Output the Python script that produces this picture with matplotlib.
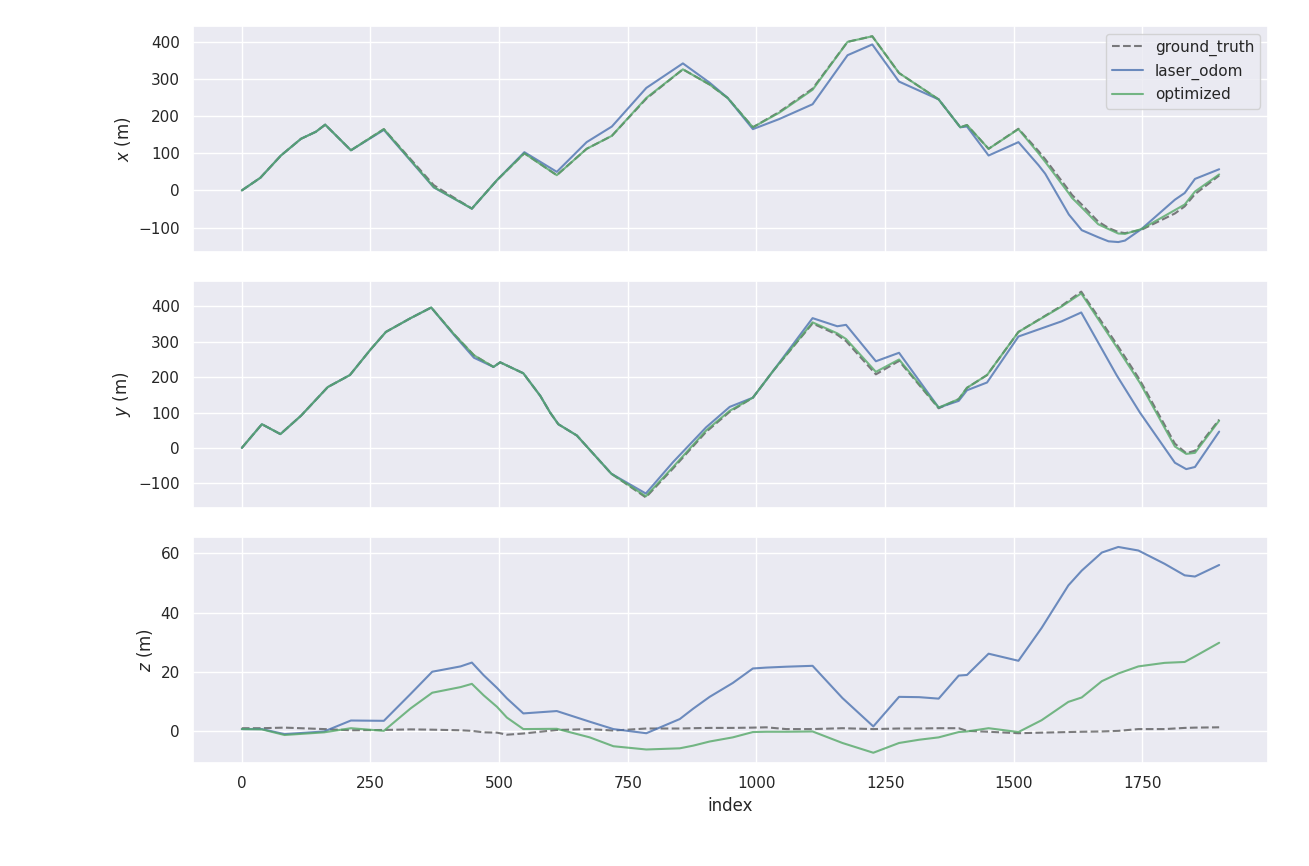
import matplotlib
matplotlib.use('Agg')
import matplotlib.pyplot as plt
import seaborn as sns

# x component (m), keypoints
idx_x = [0, 36, 76, 115, 144, 162, 212, 276, 373, 447, 496, 549, 612, 670, 719, 786,
         857, 909, 944, 993, 1044, 1109, 1177, 1225, 1277, 1354, 1396, 1409, 1451, 1509,
         1548, 1561, 1607, 1613, 1632, 1664, 1684, 1703, 1716, 1748, 1813, 1832, 1852, 1899]
gt_x = [0, 34, 94, 139, 158, 177, 108, 165, 14, -49, 28, 100, 41, 112, 147, 247,
        326, 285, 249, 170, 211, 274, 400, 415, 316, 245, 170, 176, 112, 166,
        106, 84, 0, -12, -38, -84, -101, -112, -115, -106, -62, -43, -10, 40]
laser_x = [0, 34, 94, 139, 158, 177, 108, 163, 8, -49, 28, 103, 50, 130, 172, 276,
           342, 290, 249, 165, 192, 232, 364, 393, 293, 245, 170, 172, 94, 130,
           68, 45, -65, -75, -107, -126, -137, -139, -135, -104, -25, -7, 31, 57]
opt_x = [0, 34, 94, 139, 158, 177, 108, 165, 9, -49, 28, 100, 41, 112, 147, 249,
         326, 285, 249, 170, 209, 271, 400, 415, 316, 245, 170, 176, 112, 165,
         100, 77, -8, -20, -46, -91, -104, -116, -117, -104, -53, -38, -3, 43]

# y component (m)
idx_y = [0, 39, 75, 115, 167, 210, 250, 280, 328, 368, 412, 451, 489, 502, 547, 580,
         599, 615, 651, 718, 785, 838, 902, 948, 993, 1032, 1109, 1157, 1174, 1232,
         1277, 1354, 1393, 1409, 1448, 1509, 1593, 1631, 1700, 1745, 1813, 1835, 1852, 1899]
gt_y = [0, 67, 39, 91, 172, 206, 278, 328, 367, 397, 322, 262, 229, 242, 211, 147,
        100, 67, 35, -73, -140, -58, 45, 102, 142, 217, 352, 320, 302, 208,
        246, 112, 138, 170, 206, 328, 402, 442, 293, 192, 12, -15, -8, 80]
laser_y = [0, 67, 39, 91, 172, 206, 278, 328, 367, 397, 320, 255, 229, 242, 211, 147,
           100, 67, 35, -73, -129, -40, 58, 116, 142, 217, 367, 344, 348, 245,
           269, 114, 133, 163, 185, 315, 358, 383, 205, 100, -42, -60, -54, 46]
opt_y = [0, 67, 39, 91, 172, 206, 278, 328, 367, 397, 322, 262, 229, 242, 211, 147,
         100, 67, 35, -73, -137, -54, 49, 105, 142, 217, 355, 324, 308, 215,
         250, 114, 138, 170, 206, 328, 400, 437, 285, 184, 4, -17, -14, 77]

# z component (m)
idx_z = [0, 39, 83, 160, 212, 276, 328, 370, 425, 447, 470, 496, 515, 547, 612, 676,
         722, 786, 851, 877, 909, 954, 993, 1019, 1058, 1109, 1167, 1227, 1277, 1316,
         1354, 1393, 1409, 1451, 1509, 1554, 1606, 1632, 1671, 1703, 1742, 1793, 1832,
         1852, 1899]
gt_z = [0.9, 0.9, 1.1, 0.6, 0.2, 0.3, 0.5, 0.4, 0.2, 0.0, -0.5, -0.6, -1.3, -0.9, 0.3, 0.6,
        0.1, 0.8, 0.8, 0.9, 1.0, 1.0, 1.1, 1.2, 0.6, 0.6, 0.9, 0.6, 0.8, 0.8,
        0.9, 0.9, 0.0, -0.3, -0.8, -0.6, -0.4, -0.3, -0.2, 0.0, 0.6, 0.6, 1.0,
        1.1, 1.2]
laser_z = [0.6, 0.6, -1.1, -0.2, 3.5, 3.4, 12.5, 20.0, 21.8, 23.1, 18.8, 14.5, 11.0, 5.9, 6.7, 3.1,
           0.6, -0.8, 4.0, 7.5, 11.5, 16.2, 21.1, 21.4, 21.7, 22.0, 11.1, 1.5, 11.5, 11.4,
           10.9, 18.7, 18.9, 26.1, 23.7, 34.8, 49.2, 54.2, 60.3, 62.2, 61.0, 56.5, 52.6,
           52.2, 56.1]
opt_z = [0.6, 0.5, -1.4, -0.5, 0.9, 0.0, 7.6, 12.9, 14.8, 15.9, 12.0, 8.1, 4.5, 0.6, 0.7, -2.2,
         -5.2, -6.3, -5.9, -5.0, -3.6, -2.2, -0.4, -0.3, -0.3, -0.2, -4.1, -7.4, -4.1, -3.0,
         -2.2, -0.4, -0.2, 0.9, -0.4, 3.6, 9.8, 11.3, 16.8, 19.4, 21.8, 23.0, 23.3,
         25.2, 29.8]

sns.set_theme(style='darkgrid')
pal = sns.color_palette('deep')

fig, axes = plt.subplots(3, 1, sharex=True, figsize=(13.09, 8.66), dpi=100)
panels = [(idx_x, gt_x, laser_x, opt_x, '$x$ (m)'),
          (idx_y, gt_y, laser_y, opt_y, '$y$ (m)'),
          (idx_z, gt_z, laser_z, opt_z, '$z$ (m)')]
for ax, (idx, gt, laser, opt, lab) in zip(axes, panels):
    ax.plot(idx, gt, '--', color='k', alpha=0.55, label='ground_truth')
    ax.plot(idx, laser, color=pal[0], alpha=0.8, label='laser_odom')
    ax.plot(idx, opt, color=pal[2], alpha=0.8, label='optimized')
    ax.set_ylabel(lab)

axes[0].legend(loc='upper right')
axes[-1].set_xlabel('index')

plt.subplots_adjust(left=0.1474, right=0.9687, top=0.9700, bottom=0.1189, hspace=0.128)
plt.savefig('out.png')
